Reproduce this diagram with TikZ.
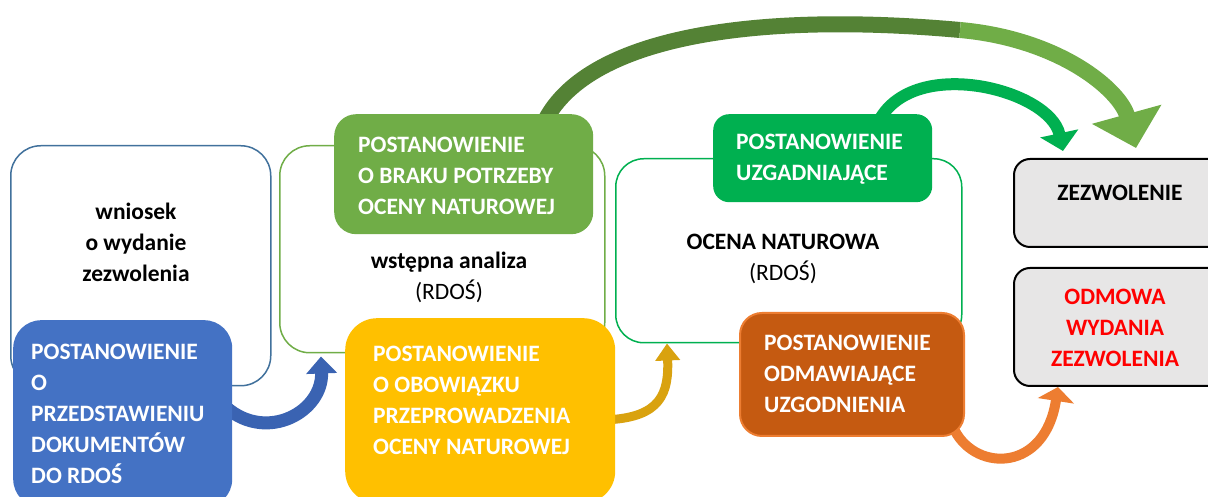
\documentclass[tikz,border=0pt]{standalone}
\usepackage{fontspec}
\setmainfont{Carlito}
\usetikzlibrary{arrows.meta,positioning}
\definecolor{frameBlue}{HTML}{41719C}
\definecolor{boxBlue}{HTML}{4472C4}
\definecolor{boxOlive}{HTML}{70AD47}
\definecolor{arrOlive}{HTML}{548235}
\definecolor{boxYellow}{HTML}{FFC000}
\definecolor{arrYellow}{HTML}{D9A20F}
\definecolor{boxGreen}{HTML}{00B050}
\definecolor{boxBrown}{HTML}{C55A11}
\definecolor{boxOrange}{HTML}{ED7D31}
\definecolor{boxGrey}{HTML}{E7E6E6}
\definecolor{arrBlue}{HTML}{3A63B2}
\pgfdeclarelayer{background}
\pgfsetlayers{background,main}
\tikzset{
  whitebox/.style={draw, line width=1.5pt, inner sep=0pt, anchor=north west},
  fillbox/.style={inner sep=0pt, anchor=north west},
  txt/.style={font=\fontsize{23.5}{31}\selectfont\bfseries, inner sep=0pt},
  wtxt/.style={txt, text=white, align=left, anchor=west}
}

\begin{document}
\begin{tikzpicture}[x=1pt, y=1pt]
\useasboundingbox (0,0) rectangle (1208,497);
\clip (0,0) rectangle (1208,497);

\node[whitebox, draw=frameBlue, rounded corners=30pt, minimum width=260pt, minimum height=240pt] (wniosek) at (10,352) {};
\node[whitebox, draw=boxOlive, rounded corners=30pt, minimum width=325pt, minimum height=207pt] (analiza) at (279,352) {};
\node[whitebox, draw=boxGreen, rounded corners=28pt, minimum width=346pt, minimum height=184pt] (ocena) at (615,339) {};

\node[fillbox, fill=boxBlue, rounded corners=28pt, minimum width=219pt, minimum height=187pt] (przed) at (13,177) {};
\node[fillbox, fill=boxOlive, rounded corners=22pt, minimum width=259pt, minimum height=120pt] (brak) at (334,383) {};
\node[fillbox, fill=boxYellow, rounded corners=32pt, minimum width=270pt, minimum height=185pt] (obow) at (345,179) {};
\node[fillbox, fill=boxGreen, rounded corners=16pt, minimum width=219pt, minimum height=88pt] (uzg) at (713,383) {};
\node[fillbox, fill=boxBrown, draw=boxOrange, line width=2pt, rounded corners=22pt, minimum width=224pt, minimum height=123pt] (odm) at (739,185) {};
\node[fillbox, fill=boxGrey, draw=black, line width=2pt, rounded corners=16pt, minimum width=215pt, minimum height=88pt] (zezw) at (1013,339) {};
\node[fillbox, fill=boxGrey, draw=black, line width=2pt, rounded corners=16pt, minimum width=215pt, minimum height=118pt] (odmowa) at (1013,230) {};

\node[txt, align=center] (wniosektxt) at (136,255) {wniosek\\o wydanie\\zezwolenia};
\node[wtxt] (przedtxt) at (31,83.5) {POSTANOWIENIE\\O\\PRZEDSTAWIENIU\\DOKUMENTÓW\\DO RDOŚ};
\node[wtxt] (braktxt) at (358,321) {POSTANOWIENIE\\O BRAKU POTRZEBY\\OCENY NATUROWEJ};
\node[txt, align=center] (analizatxt) at (449,220) {wstępna analiza\\\mdseries(RDOŚ)};
\node[wtxt] (obowtxt) at (373,97) {POSTANOWIENIE\\O OBOWIĄZKU\\PRZEPROWADZENIA\\OCENY NATUROWEJ};
\node[txt, align=center] (ocenatxt) at (783,238) {OCENA NATUROWA\\\mdseries(RDOŚ)};
\node[wtxt] (uzgtxt) at (736,338) {POSTANOWIENIE\\UZGADNIAJĄCE};
\node[wtxt] (odmtxt) at (764,123) {POSTANOWIENIE\\ODMAWIAJĄCE\\UZGODNIENIA};
\node[txt] (zezwtxt) at (1120,304) {ZEZWOLENIE};
\node[txt, align=center, text=red] (odmowatxt) at (1115,169) {ODMOWA\\WYDANIA\\ZEZWOLENIA};

\begin{pgfonlayer}{background}
\fill[white] (0,0) rectangle (1208,497);
\coordinate (bigtop) at (960,467);
\draw[line width=13pt, draw=arrBlue, -{Triangle[width=30pt,length=17pt]}] ([xshift=-6pt,yshift=6pt]przed.east) .. controls +(41,-35) and +(2,-55) .. ([xshift=42pt,yshift=-3pt]analiza.south west);
\draw[line width=9pt, draw=arrYellow, -{Triangle[width=24pt,length=17pt]}] ([xshift=-6pt,yshift=-9pt]obow.east) .. controls +(51,3) and +(2,-50) .. ([xshift=52pt]ocena.south west);
\draw[line width=16pt, draw=arrOlive] ([xshift=-48pt,yshift=-6pt]brak.north east) .. controls +(45,85) and +(-200,18) .. (bigtop);
\draw[line width=16pt, draw=boxOlive, -{Triangle[width=70pt,length=35pt]}] (bigtop) .. controls +(100,-9) and +(-16,58) .. ([xshift=123pt,yshift=10pt]zezw.north west);
\draw[line width=12pt, draw=boxGreen, -{Triangle[width=38pt,length=18pt]}] ([xshift=-53pt,yshift=-6pt]uzg.north east) .. controls +(36,65) and +(-13,61) .. ([xshift=50pt,yshift=7pt]zezw.north west);
\draw[line width=10pt, draw=boxOrange, -{Triangle[width=36pt,length=14pt]}] ([xshift=-10pt,yshift=6pt]odm.south east) .. controls +(22,-41) and +(-13,-85) .. ([xshift=45pt]odmowa.south west);
\end{pgfonlayer}
\end{tikzpicture}
\end{document}
